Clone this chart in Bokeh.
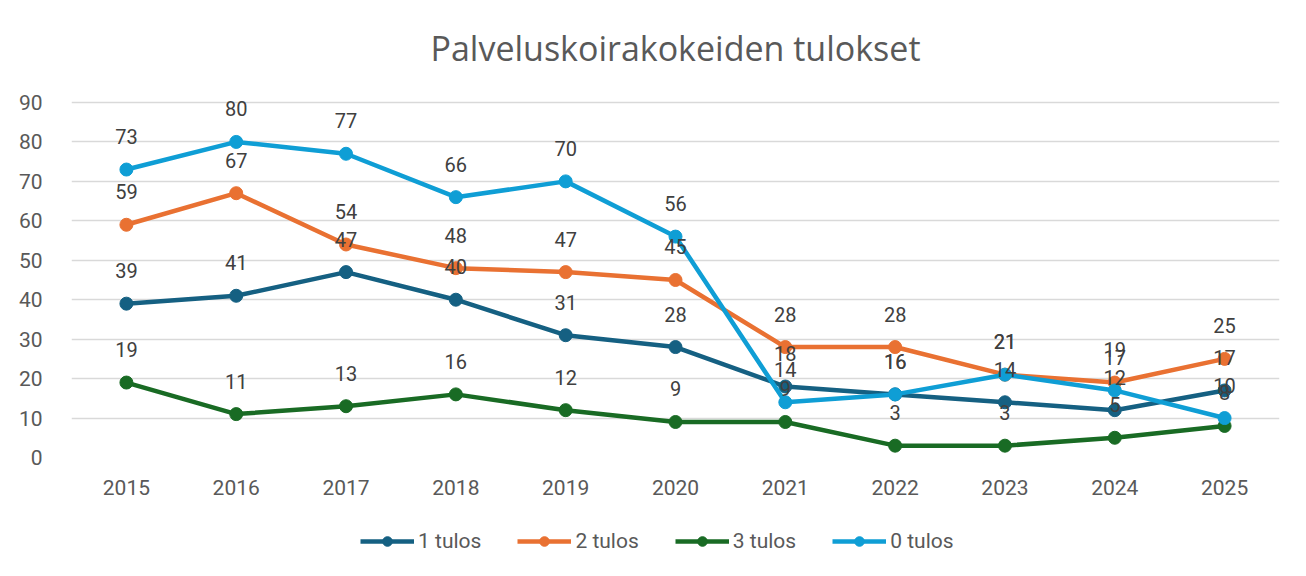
from bokeh.plotting import figure
from bokeh.layouts import column
from bokeh.models import (ColumnDataSource, Legend, LegendItem, LabelSet, Label,
                          FixedTicker, Range1d)
from bokeh.core.properties import value
from bokeh.embed import file_html
from bokeh.resources import INLINE

years = [2015, 2016, 2017, 2018, 2019, 2020, 2021, 2022, 2023, 2024, 2025]
tulos1 = [39, 41, 47, 40, 31, 28, 18, 16, 14, 12, 17]
tulos2 = [59, 67, 54, 48, 47, 45, 28, 28, 21, 19, 25]
tulos3 = [19, 11, 13, 16, 12, 9, 9, 3, 3, 5, 8]
tulos0 = [73, 80, 77, 66, 70, 56, 14, 16, 21, 17, 10]
series_names = ["1 tulos", "2 tulos", "3 tulos", "0 tulos"]
series_values = [tulos1, tulos2, tulos3, tulos0]
colors = ["#156082", "#E97132", "#196B24", "#0F9ED5"]
y_ticks = [0, 10, 20, 30, 40, 50, 60, 70, 80, 90]
title_text = "Palveluskoirakokeiden tulokset"

FONT = "Roboto"
W = 1306

# title strip
tf = figure(width=W, height=70, output_backend="svg", toolbar_location=None,
            x_range=Range1d(0, 1), y_range=Range1d(0, 70),
            min_border_left=0, min_border_right=0, min_border_top=0,
            min_border_bottom=0)
tf.axis.visible = False
tf.grid.visible = False
tf.outline_line_color = None
tf.border_fill_color = "white"
tf.background_fill_color = "white"
tf.add_layout(Label(x=0.5, y=23, text=title_text, text_align="center",
                    text_baseline="middle", text_font="Open Sans",
                    text_font_size="34px", text_color="#595959"))

# main chart
p = figure(width=W, height=435, output_backend="svg", toolbar_location=None,
           x_range=Range1d(2014.5, 2025.5), y_range=Range1d(0, 96.08),
           min_border_left=71, min_border_right=27, min_border_top=8,
           min_border_bottom=48)
p.outline_line_color = None
p.background_fill_color = "white"
p.border_fill_color = "white"

p.xaxis.ticker = FixedTicker(ticks=years)
p.yaxis.ticker = FixedTicker(ticks=y_ticks)
p.xgrid.grid_line_color = None
p.ygrid.grid_line_color = "#D9D9D9"
p.ygrid.grid_line_width = 1.5
for ax in (p.xaxis, p.yaxis):
    ax.axis_line_color = None
    ax.major_tick_line_color = None
    ax.minor_tick_line_color = None
    ax.major_label_text_font = FONT
    ax.major_label_text_font_size = "21px"
    ax.major_label_text_color = "#595959"
p.xaxis.major_label_standoff = 16
p.yaxis.major_label_standoff = 23

# legend strip
lf = figure(width=W, height=71, output_backend="svg", toolbar_location=None,
            x_range=Range1d(0, 1), y_range=Range1d(0, 1),
            min_border_left=0, min_border_right=0, min_border_top=0,
            min_border_bottom=0)
lf.axis.visible = False
lf.grid.visible = False
lf.outline_line_color = None
lf.border_fill_color = "white"
lf.background_fill_color = "white"

items = []
label_src_x, label_src_y, label_txt = [], [], []
for name, vals, col in zip(series_names, series_values, colors):
    src = ColumnDataSource(dict(x=years, y=vals))
    p.line("x", "y", source=src, line_color=col, line_width=4.5)
    p.scatter("x", "y", source=src, size=13, fill_color=col, line_color=col)
    # off-screen placeholder renderers that only feed the legend swatches
    esrc = ColumnDataSource(dict(x=[-5], y=[-5]))
    l1 = lf.line("x", "y", source=esrc, line_color=col, line_width=4.5)
    l2 = lf.scatter("x", "y", source=esrc, size=13, fill_color=col, line_color=col)
    items.append(LegendItem(label=name, renderers=[l1, l2]))
    label_src_x += years
    label_src_y += vals
    label_txt += [str(v) for v in vals]

lsrc = ColumnDataSource(dict(x=label_src_x, y=label_src_y, t=label_txt))
labels = LabelSet(x="x", y="y", text="t", source=lsrc, y_offset=33,
                  text_align="center", text_baseline="middle",
                  text_font=value(FONT), text_font_size=value("20px"),
                  text_color="#404040")
p.add_layout(labels)

legend = Legend(items=items, orientation="horizontal", location=(289, 23),
                glyph_width=54, glyph_height=24, label_standoff=4, spacing=36,
                label_text_font=FONT, label_text_font_size="21px",
                label_text_color="#595959", border_line_color=None,
                background_fill_alpha=0, margin=0, padding=0)
lf.add_layout(legend)

layout = column(tf, p, lf, spacing=0)
open("out.html", "w").write(file_html(layout, INLINE))
